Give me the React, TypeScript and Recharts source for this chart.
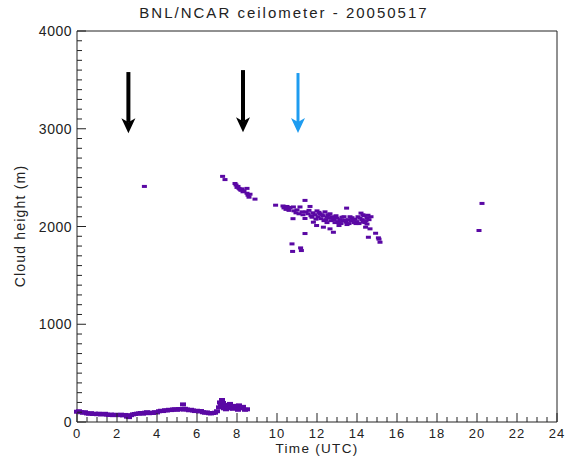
// App.tsx — BNL/NCAR ceilometer cloud heights, 2005-05-17
import {
  ScatterChart,
  Scatter,
  XAxis,
  YAxis,
  ReferenceLine,
  ReferenceDot,
} from 'recharts';

// low cloud band, [hour UTC, height m]
const lowCloud: [number, number][] = [
  [0.0, 105], [0.1, 110], [0.2, 100], [0.3, 95], [0.4, 100], [0.5, 88], [0.6, 85], [0.7, 90],
  [0.8, 82], [0.9, 85], [1.0, 80], [1.1, 85], [1.2, 78], [1.3, 80], [1.4, 84], [1.5, 75],
  [1.6, 72], [1.7, 76], [1.8, 70], [1.9, 74], [2.0, 72], [2.1, 70], [2.2, 75], [2.3, 68],
  [2.4, 72], [2.5, 55], [2.6, 50], [2.7, 70], [2.8, 78], [2.9, 82], [3.0, 85], [3.1, 88],
  [3.2, 92], [3.3, 85], [3.4, 95], [3.5, 100], [3.6, 90], [3.7, 96], [3.8, 92], [3.9, 100],
  [4.0, 98], [4.1, 110], [4.2, 115], [4.3, 112], [4.4, 120], [4.5, 118], [4.6, 125], [4.7, 122],
  [4.8, 128], [4.9, 130], [5.0, 125], [5.1, 132], [5.2, 130], [5.3, 180], [5.35, 128], [5.4, 135],
  [5.5, 128], [5.6, 120], [5.7, 125], [5.8, 118], [5.9, 112], [6.0, 115], [6.1, 108], [6.2, 112],
  [6.3, 100], [6.4, 95], [6.5, 98], [6.6, 90], [6.7, 88], [6.8, 92], [6.9, 95], [7.0, 110],
  [7.1, 150], [7.15, 200], [7.2, 170], [7.25, 225], [7.3, 195], [7.35, 140], [7.4, 175], [7.45, 130],
  [7.5, 160], [7.6, 140], [7.65, 185], [7.7, 155], [7.8, 135], [7.9, 165], [8.0, 150], [8.05, 125],
  [8.1, 170], [8.2, 140], [8.3, 155], [8.4, 125], [8.5, 130],
];

// scattered upper cloud returns
const upperCloud: [number, number][] = [
  [3.37, 2410], [7.28, 2513], [7.4, 2480], [7.9, 2440], [7.95, 2425], [8.0, 2400], [8.05, 2410],
  [8.1, 2390], [8.15, 2380], [8.2, 2370], [8.25, 2385], [8.3, 2355], [8.35, 2365], [8.5, 2390],
  [8.5, 2340], [8.55, 2320], [8.6, 2300], [8.65, 2330], [8.9, 2280], [9.93, 2218],
  [10.3, 2210], [10.35, 2190], [10.4, 2200], [10.45, 2175], [10.5, 2205], [10.55, 2185],
  [10.6, 2165], [10.65, 2195], [10.75, 1822], [10.78, 1745], [10.8, 2080], [10.82, 2200],
  [10.85, 2160], [10.95, 2140], [11.0, 2170], [11.1, 2130], [11.15, 2200], [11.18, 1781],
  [11.22, 1754], [11.25, 2150], [11.3, 2120], [11.4, 2267], [11.4, 2082], [11.4, 1928],
  [11.45, 2150], [11.55, 2130], [11.65, 2205], [11.7, 2110], [11.8, 2140], [11.82, 2044],
  [11.9, 2120], [11.98, 2010], [12.0, 2160], [12.05, 2100], [12.15, 2130], [12.2, 2080],
  [12.3, 2110], [12.32, 1993], [12.4, 2150], [12.45, 2070], [12.55, 2120], [12.6, 2090],
  [12.65, 1976], [12.7, 2060], [12.75, 2100], [12.82, 1941], [12.85, 2070], [12.9, 2040],
  [13.0, 2085], [13.05, 2050], [13.15, 2070], [13.2, 2030], [13.3, 2060], [13.35, 2100],
  [13.45, 2045], [13.48, 2188], [13.55, 2070], [13.6, 2030], [13.7, 2060], [13.75, 2090],
  [13.85, 2040], [13.9, 2075], [14.0, 2050], [14.05, 2100], [14.1, 2030], [14.2, 2137],
  [14.25, 2070], [14.3, 2045], [14.35, 2110], [14.43, 1993], [14.45, 2060], [14.5, 2090],
  [14.57, 1890], [14.6, 2070], [14.65, 1976], [14.7, 2100], [14.93, 1931], [15.07, 1884],
  [15.1, 1870], [15.15, 1839], [20.1, 1959], [20.25, 2236],
  // denser core of the 11.5–14.6 h layer
  [11.6, 2165], [11.75, 2095], [11.95, 2075], [12.1, 2145], [12.25, 2120], [12.35, 2060],
  [12.5, 2095], [12.65, 2130], [12.8, 2085], [12.95, 2110], [13.1, 2040], [13.25, 2095],
  [13.4, 2065], [13.5, 2020], [13.65, 2100], [13.8, 2065], [13.95, 2030], [14.15, 2085],
  [14.3, 2120], [14.4, 2040], [14.55, 2115], [14.5, 2025], [13.1, 2010], [12.5, 2040],
];

// annotation arrows: hour, shaft top (m), tip (m)
const arrows = [
  { t: 2.57, top: 3580, tip: 2955, color: '#000000' },
  { t: 8.3, top: 3600, tip: 2965, color: '#000000' },
  { t: 11.05, top: 3570, tip: 2957, color: '#1e9cf0' },
];

const xLabels = [0, 2, 4, 6, 8, 10, 12, 14, 16, 18, 20, 22, 24];
const yLabels = [0, 1000, 2000, 3000, 4000];

const xTicks: number[] = [];
for (let v = 0; v <= 24; v += 0.5) xTicks.push(v);
const yTicks: number[] = [];
for (let v = 0; v <= 4000; v += 100) yTicks.push(v);

const lowData = lowCloud.map(([t, h]) => ({ t, h }));
const upperData = upperCloud.map(([t, h]) => ({ t, h }));

const FONT = '"Liberation Sans", Arial, sans-serif';
const INK = '#222';
const PURPLE = '#5a08a4';

const Dash = (w: number, hgt: number) => (props: any) => (
  <rect x={props.cx - w / 2} y={props.cy - hgt / 2} width={w} height={hgt} fill={PURPLE} />
);

function makeTick(side: 'bottom' | 'top' | 'left' | 'right') {
  return (props: any) => {
    const { x, y, payload } = props;
    const v = payload.value;
    const horiz = side === 'bottom' || side === 'top';
    const major = horiz ? xLabels.includes(v) : yLabels.includes(v);
    const len = major ? 9 : 5;
    let line;
    if (side === 'bottom') line = <line x1={x} y1={y} x2={x} y2={y - len} stroke={INK} />;
    else if (side === 'top') line = <line x1={x} y1={y} x2={x} y2={y + len} stroke={INK} />;
    else if (side === 'left') line = <line x1={x} y1={y} x2={x + len} y2={y} stroke={INK} />;
    else line = <line x1={x} y1={y} x2={x - len} y2={y} stroke={INK} />;
    return (
      <g>
        {line}
        {major && side === 'bottom' && (
          <text x={x} y={y + 16} textAnchor="middle" fontSize={13} fontFamily={FONT} fill={INK} letterSpacing={1}>
            {v}
          </text>
        )}
        {major && side === 'left' && (
          <text x={x - 5} y={y + 5} textAnchor="end" fontSize={14} fontFamily={FONT} fill={INK} letterSpacing={0.5}>
            {v}
          </text>
        )}
      </g>
    );
  };
}

const ArrowHead = (color: string) => (props: any) => {
  const { cx, cy } = props;
  return (
    <polygon
      points={`${cx},${cy} ${cx - 7},${cy - 15} ${cx},${cy - 11} ${cx + 7},${cy - 15}`}
      fill={color}
    />
  );
};

export default function App() {
  return (
    <div style={{ position: 'absolute', left: 0, top: 0, width: 568, height: 457, background: '#fff' }}>
      <div
        style={{
          position: 'absolute',
          left: 0,
          width: 568,
          top: 4,
          textAlign: 'center',
          fontFamily: FONT,
          fontSize: 15,
          letterSpacing: 2,
          color: INK,
        }}
      >
        BNL/NCAR ceilometer - 20050517
      </div>
      <div
        style={{
          position: 'absolute',
          left: 77,
          width: 480,
          top: 442,
          lineHeight: '13px',
          textAlign: 'center',
          fontFamily: FONT,
          fontSize: 13.5,
          letterSpacing: 1.3,
          color: INK,
        }}
      >
        Time (UTC)
      </div>
      <div
        style={{
          position: 'absolute',
          left: 20 - 80,
          top: 227 - 9,
          width: 160,
          textAlign: 'center',
          transform: 'rotate(-90deg)',
          fontFamily: FONT,
          fontSize: 14,
          letterSpacing: 1.2,
          color: INK,
        }}
      >
        Cloud height (m)
      </div>
      <ScatterChart width={568} height={457} margin={{ top: 30, right: 10, bottom: 0, left: 0 }}>
        <XAxis
          xAxisId="bottom"
          dataKey="t"
          type="number"
          orientation="bottom"
          domain={[0, 24]}
          ticks={xTicks}
          interval={0}
          height={35}
          tickSize={0}
          tickMargin={0}
          tickLine={false}
          axisLine={{ stroke: INK }}
          tick={makeTick('bottom')}
        />
        <XAxis
          xAxisId="top"
          dataKey="t"
          type="number"
          orientation="top"
          domain={[0, 24]}
          ticks={xTicks}
          interval={0}
          height={1}
          tickSize={0}
          tickMargin={0}
          tickLine={false}
          axisLine={{ stroke: INK }}
          tick={makeTick('top')}
        />
        <YAxis
          yAxisId="left"
          dataKey="h"
          type="number"
          orientation="left"
          domain={[0, 4000]}
          ticks={yTicks}
          interval={0}
          width={77}
          tickSize={0}
          tickMargin={0}
          tickLine={false}
          axisLine={{ stroke: INK }}
          tick={makeTick('left')}
        />
        <YAxis
          yAxisId="right"
          dataKey="h"
          type="number"
          orientation="right"
          domain={[0, 4000]}
          ticks={yTicks}
          interval={0}
          width={1}
          tickSize={0}
          tickMargin={0}
          tickLine={false}
          axisLine={{ stroke: INK }}
          tick={makeTick('right')}
        />
        {arrows.map((a, i) => (
          <ReferenceLine
            key={`shaft${i}`}
            xAxisId="bottom"
            yAxisId="left"
            segment={[{ x: a.t, y: a.top }, { x: a.t, y: a.tip + 110 }]}
            stroke={a.color}
            strokeWidth={a.color === '#000000' ? 4 : 3}
          />
        ))}
        {arrows.map((a, i) => (
          <ReferenceDot
            key={`head${i}`}
            xAxisId="bottom"
            yAxisId="left"
            x={a.t}
            y={a.tip}
            shape={ArrowHead(a.color)}
          />
        ))}
        <Scatter
          xAxisId="bottom"
          yAxisId="left"
          data={lowData}
          shape={Dash(6, 4)}
          isAnimationActive={false}
        />
        <Scatter
          xAxisId="bottom"
          yAxisId="left"
          data={upperData}
          shape={Dash(5, 3)}
          isAnimationActive={false}
        />
      </ScatterChart>
    </div>
  );
}
